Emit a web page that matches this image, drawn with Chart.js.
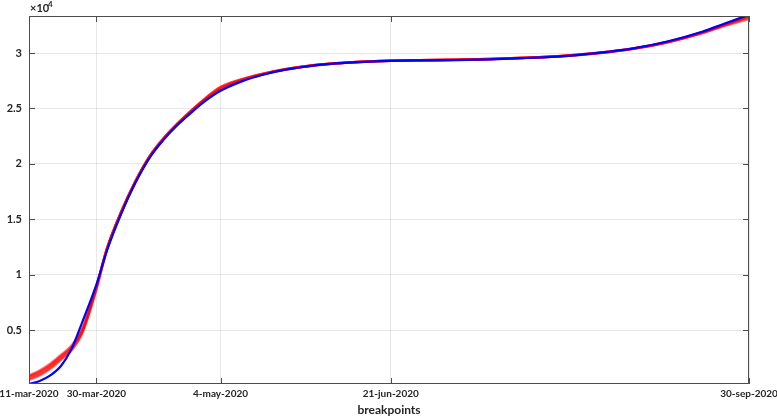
<!DOCTYPE html>
<html>
<head>
<meta charset="utf-8">
<script src="https://cdn.jsdelivr.net/npm/chart.js@4/dist/chart.umd.min.js"></script>
<style>
  html,body{margin:0;padding:0;background:#fff;}
  #wrap{width:777px;height:417px;position:relative;}
</style>
</head>
<body>
<div id="wrap"><canvas id="c" width="777" height="417"></canvas></div>
<script>
// Days since 11-mar-2020
const days = [0,3,6,9,12,15,19,22,26,30,34,38,42,46,50,54,60,66,72,78,84,90,96,102,110,120,130,140,150,160,170,180,190,196,203];
// Observed (blue)
const observed = [150,400,900,1750,3300,5700,9100,12200,15500,18300,20550,22200,23550,24700,25750,26600,27450,28050,28480,28780,29000,29140,29240,29300,29340,29370,29440,29560,29700,30000,30400,31050,31950,32650,33450];
// Fitted curves (red)
const fit1 = [900,1350,1950,2750,3600,5100,8950,12400,15700,18450,20700,22350,23700,24900,26000,26950,27650,28150,28540,28820,29020,29160,29255,29310,29360,29400,29470,29580,29740,30020,30400,31000,31880,32550,33350];
const fit2 = [750,1150,1750,2550,3400,4900,8850,12350,15650,18400,20650,22300,23650,24850,25950,26850,27600,28120,28520,28810,29015,29155,29250,29310,29355,29395,29460,29570,29720,29990,30380,30980,31850,32500,33200];
const fit3 = [600,1000,1600,2400,3250,4800,8750,12300,15600,18350,20600,22250,23600,24800,25850,26700,27520,28080,28500,28795,29005,29148,29245,29305,29350,29385,29450,29560,29710,29970,30360,30950,31800,32450,33080];
const fit4 = [500,900,1500,2300,3150,4700,8650,12300,15620,18380,20640,22280,23640,24830,25900,26780,27560,28100,28510,28800,29010,29150,29248,29308,29352,29390,29460,29570,29730,30000,30390,31020,31920,32620,33420];
const fit5 = [820,1250,1850,2650,3500,5000,8900,12380,15680,18420,20680,22330,23680,24870,25980,26900,27630,28140,28530,28815,29018,29158,29253,29312,29358,29398,29465,29575,29735,30010,30385,30990,31860,32520,33280];
// Breakpoint ticks
const breakDays = [0,19,54,102,203];
const breakLabels = ['11-mar-2020','30-mar-2020','4-may-2020','21-jun-2020','30-sep-2020'];
const yTickValues = [5000,10000,15000,20000,25000,30000];

const pts = arr => arr.map((v,i)=>({x:days[i], y:v}));
const FONT = 'Lato, "Open Sans", sans-serif';

const redSet = (arr) => ({data:pts(arr), borderColor:'rgba(255,0,0,0.55)', borderWidth:2.5, pointRadius:0, cubicInterpolationMode:'monotone', fill:false, order:2});

const boxPlugin = {
  id:'boxPlugin',
  afterDraw(chart){
    const {ctx, chartArea:a, scales} = chart;
    ctx.save();
    ctx.strokeStyle = '#4d4d4d';
    ctx.lineWidth = 1;
    ctx.strokeRect(a.left+0.5, a.top+0.5, a.right-a.left-1, a.bottom-a.top-1);
    // inward ticks
    ctx.beginPath();
    scales.y.ticks.forEach(t=>{
      const y = Math.round(scales.y.getPixelForValue(t.value))+0.5;
      ctx.moveTo(a.left, y); ctx.lineTo(a.left+6, y);
      ctx.moveTo(a.right, y); ctx.lineTo(a.right-6, y);
    });
    scales.x.ticks.forEach(t=>{
      const x = Math.round(scales.x.getPixelForValue(t.value))+0.5;
      ctx.moveTo(x, a.bottom); ctx.lineTo(x, a.bottom-6);
      ctx.moveTo(x, a.top); ctx.lineTo(x, a.top+6);
    });
    ctx.stroke();
    ctx.fillStyle = '#262626';
    ctx.font = 'bold 11px ' + FONT;
    ctx.textBaseline = 'alphabetic';
    ctx.fillText('×10', a.left+1, a.top-4);
    ctx.font = 'bold 8px ' + FONT;
    ctx.fillText('4', a.left+1+ctx.measureText('×10').width+4, a.top-9);
    ctx.restore();
  }
};

new Chart(document.getElementById('c'), {
  type:'line',
  data:{datasets:[
    redSet(fit1), redSet(fit2), redSet(fit3), redSet(fit4), redSet(fit5),
    {data:pts(observed), borderColor:'#0000ff', borderWidth:2.2, pointRadius:0, cubicInterpolationMode:'monotone', fill:false, order:1}
  ]},
  options:{
    responsive:false, animation:false,
    layout:{padding:{left:0,right:28,top:16,bottom:0}},
    plugins:{legend:{display:false}, tooltip:{enabled:false}},
    scales:{
      x:{type:'linear', min:0, max:203,
        afterBuildTicks(s){ s.ticks = breakDays.map(v=>({value:v})); },
        afterFit(s){ s.height = 33; s.paddingLeft = 0; s.paddingRight = 0; },
        ticks:{autoSkip:false, maxRotation:0, padding:4, color:'#262626', font:{family:FONT, size:10, weight:'bold'},
          callback(v){ const i = breakDays.indexOf(v); return i>=0 ? breakLabels[i] : ''; }},
        grid:{color:'rgba(0,0,0,0.09)', drawTicks:false},
        border:{display:false},
        title:{display:true, text:'breakpoints', color:'#262626', font:{family:FONT, size:12, weight:'bold'}, padding:{top:0,bottom:0}}
      },
      y:{type:'linear', min:130, max:33350,
        afterBuildTicks(s){ s.ticks = yTickValues.map(v=>({value:v})); },
        afterFit(s){ s.width = 29; s.paddingTop = 0; s.paddingBottom = 0; },
        ticks:{padding:7, color:'#262626', font:{family:FONT, size:11, weight:'bold'},
          callback(v){ return String(v/10000); }},
        grid:{color:'rgba(0,0,0,0.09)', drawTicks:false},
        border:{display:false}
      }
    }
  },
  plugins:[boxPlugin]
});
</script>
</body>
</html>
